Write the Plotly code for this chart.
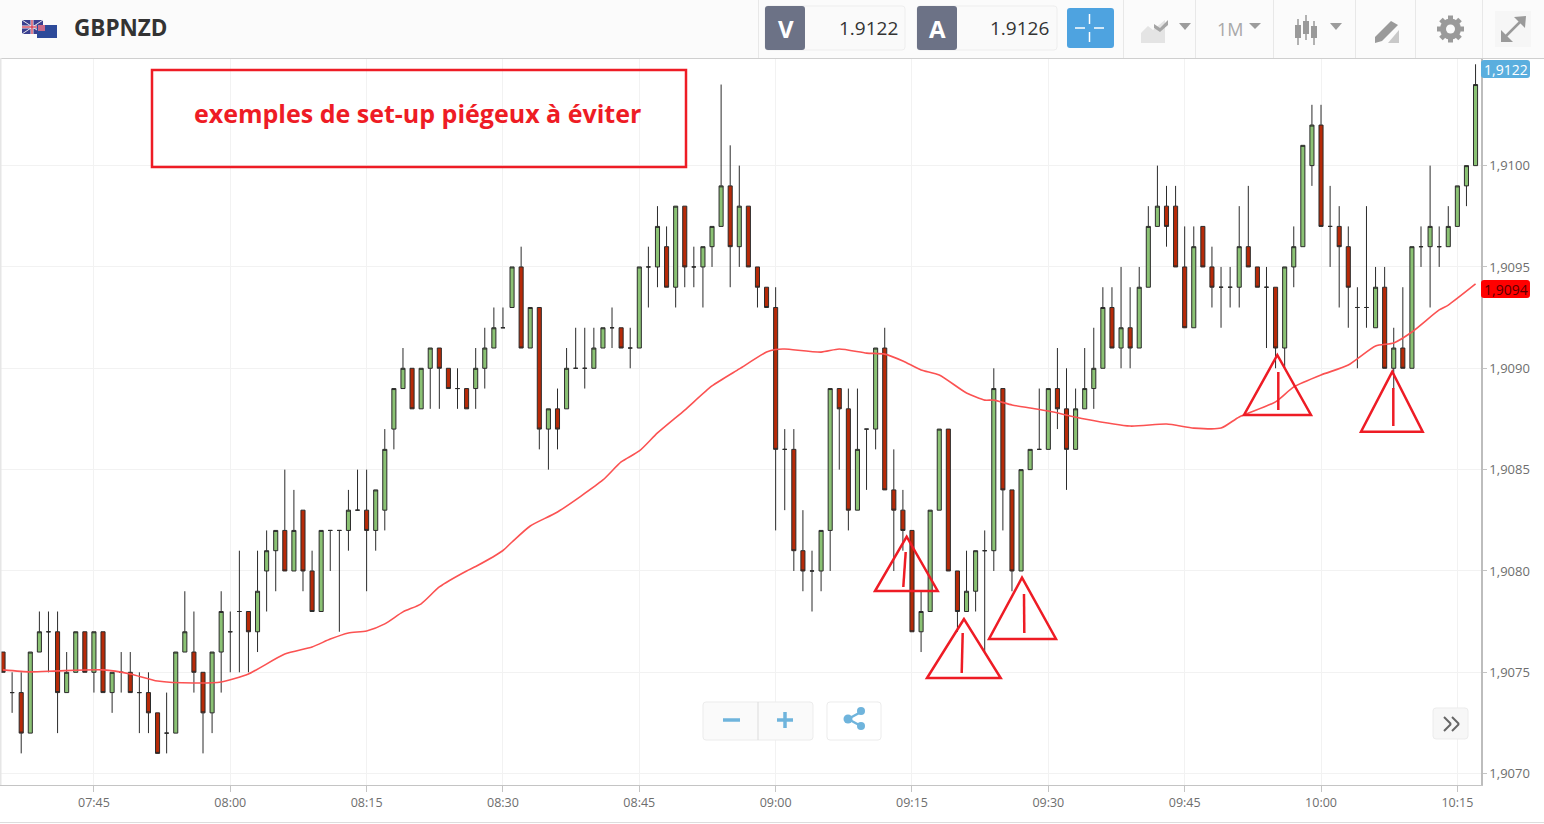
import plotly.graph_objects as go
import pandas as pd
import math

# prices as 1.xxxx ticks (value = 1 + n/10000)
opens = [9076,9074,9074,9072,9076,9077,9077,9074,9075,9077,9075,9077,9074,9075,9075,9074,9074,9073,9072,9072,9076,9076,9075,9073,9076,9077,9078,9078,9077,
 9080,9081,9082,9080,9083,9080,9078,9082,9082,9082,9083,9083,9082,9083,9087,9089,9090,9088,9090,9091,9090,9089,9089,9089,9090,9091,9092,
 9093,9095,9091,9093,9087,9088,9088,9090,9090,9090,9091,9092,9092,9091,9091,9095,9095,9096,9094,9098,9095,9095,9096,9097,9099,9096,9098,9095,9094,
 9093,9086,9086,9081,9080,9080,9082,9089,9088,9083,9087,9087,9091,9084,9083,9082,9077,9078,9083,9087,9080,9078,9079,9081,9081,9089,9084,9080,
 9085,9086,9086,9089,9088,9086,9088,9089,9090,9093,9091,9092,9091,9094,9097,9098,9098,9095,9092,9097,9095,9094,9094,9094,9096,9095,
 9094,9094,9091,9095,9096,9100,9102,9097,9097,9096,9093,9093,9092,9094,9090,9091,9090,9096,9096,9096,9096,9097,9099,9100]
closes = [9075,9074,9072,9076,9077,9077,9074,9075,9077,9075,9077,9074,9075,9075,9074,9074,9073,9071,9072,9076,9077,9075,9073,9076,9078,9077,9078,9077,9079,
 9081,9082,9080,9082,9080,9078,9082,9082,9082,9083,9083,9082,9084,9086,9089,9090,9088,9090,9091,9090,9089,9089,9088,9090,9091,9092,9092,
 9095,9091,9093,9087,9088,9087,9090,9090,9090,9091,9092,9092,9091,9091,9095,9095,9097,9094,9098,9095,9095,9096,9097,9099,9096,9098,9095,9094,9093,
 9086,9086,9081,9080,9080,9082,9089,9088,9083,9086,9087,9091,9084,9083,9082,9077,9078,9083,9087,9080,9078,9079,9081,9081,9089,9084,9080,9085,
 9086,9086,9089,9088,9086,9088,9089,9090,9093,9091,9092,9091,9094,9097,9098,9097,9095,9092,9096,9095,9094,9094,9094,9096,9095,9094,
 9094,9091,9095,9096,9101,9102,9097,9097,9096,9094,9093,9093,9094,9090,9091,9090,9096,9096,9097,9096,9097,9099,9100,9104]
highs = [9076,9075,9075,9076,9078,9078,9078,9076,9077,9077,9077,9077,9075,9076,9076,9075,9075,9073,9074,9076,9079,9078,9075,9076,9079,9078,9081,9078,9081,
 9082,9082,9085,9084,9083,9081,9082,9082,9082,9084,9085,9085,9084,9087,9089,9091,9090,9090,9091,9091,9090,9090,9089,9091,9092,9093,9093,
 9095,9096,9093,9093,9088,9089,9091,9092,9092,9092,9092,9093,9092,9092,9095,9096,9098,9097,9098,9098,9096,9096,9097,9104,9101,9100,9098,9095,9094,
 9094,9087,9087,9083,9081,9082,9089,9089,9089,9089,9087,9091,9092,9086,9084,9082,9079,9083,9087,9087,9080,9081,9081,9082,9090,9089,9084,9085,
 9086,9089,9089,9091,9090,9089,9091,9092,9094,9094,9095,9094,9095,9098,9100,9099,9099,9097,9097,9097,9096,9095,9095,9098,9099,9095,
 9095,9094,9095,9097,9101,9103,9103,9099,9098,9097,9094,9098,9095,9095,9092,9094,9096,9097,9100,9097,9098,9099,9100,9105]
lows = [9075,9073,9071,9072,9076,9075,9072,9074,9075,9075,9074,9074,9073,9074,9074,9072,9072,9071,9071,9072,9076,9074,9071,9072,9074,9075,9075,9075,9076,
 9078,9079,9080,9080,9079,9078,9078,9080,9077,9081,9083,9079,9081,9082,9086,9089,9088,9088,9088,9088,9089,9088,9088,9088,9089,9091,9092,
 9093,9091,9091,9086,9085,9086,9088,9090,9089,9090,9091,9091,9091,9090,9091,9093,9094,9094,9093,9094,9094,9093,9095,9097,9094,9095,9095,9093,9093,
 9082,9083,9080,9079,9078,9079,9080,9085,9082,9083,9084,9086,9084,9080,9081,9077,9076,9078,9083,9080,9077,9078,9078,9076,9080,9082,9079,9080,
 9085,9086,9086,9087,9084,9086,9088,9088,9090,9091,9090,9090,9091,9094,9097,9096,9095,9092,9092,9095,9093,9092,9093,9093,9095,9094,
 9091,9090,9090,9094,9096,9099,9097,9095,9093,9092,9090,9092,9092,9090,9089,9090,9090,9095,9093,9095,9096,9097,9098,9100]

ma_minutes = [0,3,6,11,14,17,21,24,27,31,34,36,38,40,42,44,46,48,51,52,55,56,58,61,66,68,70,72,75,78,81,84,85,86,90,92,95,97,99,101,103,106,108,109,111,113,115,119,124,128,131,134,136,140,142,145,148,151,153,155,158,159,162]
ma_values = [9075.12,9075.02,9075.07,9075.12,9074.92,9074.57,9074.47,9074.52,9074.92,9075.9,9076.25,9076.64,9076.94,9077.04,9077.39,9077.98,9078.38,9079.21,9080.0,9080.22,9081.01,9081.43,9082.22,9082.91,9084.49,9085.38,9085.92,9086.81,9087.94,9089.13,9089.97,9090.80,9090.93,9090.95,9090.8,9090.95,9090.75,9090.7,9090.36,9089.92,9089.67,9088.78,9088.43,9088.43,9088.19,9088.04,9087.89,9087.5,9087.15,9087.25,9087.05,9087.05,9087.6,9088.34,9089.08,9089.67,9090.16,9091.1,9091.25,9091.79,9092.88,9093.12,9094.16]

y_tick_values = [1.9070,1.9075,1.9080,1.9085,1.9090,1.9095,1.9100]
y_tick_labels = ["1,9070","1,9075","1,9080","1,9085","1,9090","1,9095","1,9100"]
x_tick_labels = ["07:45","08:00","08:15","08:30","08:45","09:00","09:15","09:30","09:45","10:00","10:15"]

W, H = 1544, 824
DAY = "2020-01-06 "
start = pd.Timestamp(DAY + "07:35")
times = [start + pd.Timedelta(minutes=i) for i in range(len(opens))]
px = lambda v: 1 + v / 10000
X = lambda x: x / W
Y = lambda y: 1 - y / H

fig = go.Figure()
fig.add_trace(go.Candlestick(
    x=times, open=[px(v) for v in opens], high=[px(v) for v in highs],
    low=[px(v) for v in lows], close=[px(v) for v in closes],
    increasing=dict(fillcolor="#8bc274", line=dict(color="#2b2b2b", width=1)),
    decreasing=dict(fillcolor="#b72a08", line=dict(color="#2b2b2b", width=1)),
    showlegend=False, hoverinfo="skip"))
fig.add_trace(go.Scatter(
    x=[start + pd.Timedelta(minutes=m) for m in ma_minutes], y=[px(v) for v in ma_values],
    mode="lines", line=dict(color="#fb5252", width=1.6, shape="spline", smoothing=0.6),
    showlegend=False, hoverinfo="skip"))

shapes, annos = [], []

def rect(x0, y0, x1, y1, fill="rgba(0,0,0,0)", line=None, lw=1):
    shapes.append(dict(type="rect", xref="paper", yref="paper", x0=X(x0), x1=X(x1), y0=Y(y0), y1=Y(y1),
                       fillcolor=fill, line=dict(color=line or "rgba(0,0,0,0)", width=lw if line else 0)))

def rrect(x0, y0, x1, y1, r=3, fill="rgba(0,0,0,0)", line=None, lw=1):
    d = (f"M {X(x0+r):.5f},{Y(y0):.5f} L {X(x1-r):.5f},{Y(y0):.5f} Q {X(x1):.5f},{Y(y0):.5f} {X(x1):.5f},{Y(y0+r):.5f} "
         f"L {X(x1):.5f},{Y(y1-r):.5f} Q {X(x1):.5f},{Y(y1):.5f} {X(x1-r):.5f},{Y(y1):.5f} "
         f"L {X(x0+r):.5f},{Y(y1):.5f} Q {X(x0):.5f},{Y(y1):.5f} {X(x0):.5f},{Y(y1-r):.5f} "
         f"L {X(x0):.5f},{Y(y0+r):.5f} Q {X(x0):.5f},{Y(y0):.5f} {X(x0+r):.5f},{Y(y0):.5f} Z")
    shapes.append(dict(type="path", xref="paper", yref="paper", path=d, fillcolor=fill,
                       line=dict(color=line or "rgba(0,0,0,0)", width=lw if line else 0)))

def seg(x0, y0, x1, y1, color, lw=1):
    shapes.append(dict(type="line", xref="paper", yref="paper", x0=X(x0), x1=X(x1), y0=Y(y0), y1=Y(y1),
                       line=dict(color=color, width=lw)))

def poly(points, fill="rgba(0,0,0,0)", line=None, lw=1):
    d = "M " + " L ".join(f"{X(a):.5f},{Y(b):.5f}" for a, b in points) + " Z"
    shapes.append(dict(type="path", xref="paper", yref="paper", path=d, fillcolor=fill,
                       line=dict(color=line or "rgba(0,0,0,0)", width=lw if line else 0)))

def circle(cx, cy, r, fill):
    shapes.append(dict(type="circle", xref="paper", yref="paper", x0=X(cx-r), x1=X(cx+r), y0=Y(cy+r), y1=Y(cy-r),
                       fillcolor=fill, line=dict(width=0)))

def text(x, y, s, size, color, anchor="left", family="Open Sans", bold=False):
    annos.append(dict(xref="paper", yref="paper", x=X(x), y=Y(y), text=f"<b>{s}</b>" if bold else s, showarrow=False,
                      xanchor=anchor, yanchor="middle", font=dict(size=size, color=color, family=family),
                      borderpad=0, borderwidth=0))

# top toolbar
rect(0, 0, W, 58, fill="#fbfbfb")
seg(0, 58.5, W, 58.5, "#cfcfcf", 1)
rect(0, 58, 1.5, 785, fill="#e6e6e6")
seg(0, 822.5, W, 822.5, "#dddddd", 1)

# flags
rect(22, 20, 43, 34, fill="#3a3f8f")
seg(22, 27, 43, 27, "#e8e8ee", 3); seg(32, 20, 32, 34, "#e8e8ee", 3)
seg(22, 20, 43, 34, "#e8e8ee", 1); seg(22, 34, 43, 20, "#e8e8ee", 1)
seg(22, 27, 43, 27, "#d8344a", 1.2); seg(32, 20, 32, 34, "#d8344a", 1.2)
rect(37, 25, 57, 38, fill="#2d4a9a")
rect(38, 25, 45, 31, fill="#c86a8a")
text(74, 27.5, "GBPNZD", 22.5, "#333333", family="Open Sans", bold=True)

# bid / ask boxes
rrect(765, 6, 905, 50, fill="#fafafa", line="#eeeeee")
rrect(765, 6, 805, 50, fill="#6c7286")
text(786, 28.5, "V", 24, "#ffffff", "center", bold=True)
text(898, 27.5, "1.9122", 19, "#333333", "right")
rrect(917, 6, 1057, 50, fill="#fafafa", line="#eeeeee")
rrect(917, 6, 957, 50, fill="#6c7286")
text(937, 28.5, "A", 24, "#ffffff", "center", bold=True)
text(1049, 27.5, "1.9126", 19, "#333333", "right")

# crosshair button
rrect(1067, 8, 1114, 48, fill="#4ea3e0")
seg(1089.5, 14, 1089.5, 24, "#ffffff", 1.5); seg(1089.5, 32, 1089.5, 42, "#ffffff", 1.5)
seg(1075, 28, 1085, 28, "#ffffff", 1.5); seg(1094, 28, 1104, 28, "#ffffff", 1.5)

for sx in (758, 1123, 1195, 1273, 1355, 1415, 1482):
    seg(sx + .5, 0, sx + .5, 58, "#e8e8e8", 1)

# chart type icon
poly([(1141, 33), (1148, 26), (1153, 30), (1165, 20), (1165, 43), (1141, 43)], fill="#e4e4e4")
poly([(1154, 24), (1160, 28), (1168, 20), (1168, 25), (1160, 32), (1154, 28)], fill="#a5a5a5")
poly([(1179, 23), (1191, 23), (1185, 30)], fill="#9c9c9c")
text(1217, 29, "1M", 18, "#a8a8a8", bold=False)
poly([(1249, 23), (1261, 23), (1255, 29)], fill="#9c9c9c")

# candle icon
for cx, top, bot, wt, wb in ((1298, 25, 38, 19, 45), (1306, 21, 34, 15, 40), (1314, 26, 38, 21, 45)):
    seg(cx, wt, cx, wb, "#9a9a9a", 1.5)
    rect(cx - 3, top, cx + 3, bot, fill="#9a9a9a")
poly([(1330, 23), (1342, 23), (1336, 30)], fill="#9c9c9c")

# pencil icon
poly([(1375, 37), (1391, 21), (1398, 25), (1382, 41), (1375, 43)], fill="#9a9a9a")
poly([(1388, 43), (1399, 30), (1399, 43)], fill="#c9c9c9")

# gear icon
GX, GY = 1450.5, 29
for k in range(8):
    a = k * math.pi / 4
    seg(GX, GY, GX + 13.5 * math.cos(a), GY + 13.5 * math.sin(a), "#9a9a9a", 5)
circle(GX, GY, 10.5, "#9a9a9a")
circle(GX, GY, 4.5, "#fbfbfb")

# expand button
rect(1495, 11, 1531, 47, fill="#f6f6f6")
seg(1506, 36, 1520, 22, "#9a9a9a", 2.5)
poly([(1514, 17), (1526, 16), (1525, 28)], fill="#9a9a9a")
poly([(1501, 30), (1501, 42), (1513, 42)], fill="#9a9a9a")

# note box
rect(152, 70, 686, 167, line="#ee1c25", lw=2.5)
text(417, 113, "exemples de set-up piégeux à éviter", 25, "#ee1c25", "center", bold=True)

# warning triangles
TRIS = [((906.7, 536.7), (875, 591), (937.7, 591), (905.7, 552), (903.3, 587)),
        ((964, 619), (927, 678), (1000.7, 678), (962.7, 633), (961.7, 673)),
        ((1022, 577.7), (989, 639), (1056, 639), (1024, 594), (1024.3, 633)),
        ((1277.3, 355), (1244, 415), (1311, 415), (1278.3, 372), (1278.3, 410)),
        ((1392.3, 371.7), (1361, 431.7), (1422.7, 431.7), (1393.3, 388), (1393.3, 426))]
for a, b, c, s0, s1 in TRIS:
    poly([a, b, c], line="#ee1c25", lw=2.5)
    seg(s0[0], s0[1], s1[0], s1[1], "#ee1c25", 2.5)

# price badges
rrect(1481, 60, 1530, 78, fill="#5aaede")
text(1506, 69, "1,9122", 14, "#ffffff", "center")
rrect(1481, 280, 1530, 298, fill="#ff0000")
text(1506, 289, "1,9094", 14, "#5a0000", "center")

# zoom + share buttons
rrect(703, 702, 813, 740, fill="#fafafa", line="#ececec")
seg(758, 702, 758, 740, "#dcdcdc", 1)
seg(723, 720, 740, 720, "#6fb4dc", 3.5)
seg(777, 720, 793, 720, "#6fb4dc", 3.5); seg(785, 712, 785, 728, "#6fb4dc", 3.5)
rrect(827, 702, 881, 740, fill="#ffffff", line="#ececec")
seg(848, 719, 861, 712, "#6fb4dc", 2.5); seg(848, 719, 861, 726, "#6fb4dc", 2.5)
circle(848, 719, 4.5, "#6fb4dc"); circle(861, 711, 4, "#6fb4dc"); circle(861, 726, 4, "#6fb4dc")

# collapse button
rrect(1433, 708, 1468, 739, fill="#f7f7f7", line="#ececec")
for dx in (0, 8):
    seg(1444 + dx, 717, 1451 + dx, 724, "#666666", 2)
    seg(1451 + dx, 724, 1444 + dx, 731, "#666666", 2)

x_ticks = [pd.Timestamp(DAY + t) for t in x_tick_labels]
fig.update_layout(
    width=W, height=H, margin=dict(l=0, r=0, t=0, b=0), autosize=False,
    paper_bgcolor="#ffffff", plot_bgcolor="#ffffff", boxgap=0.36, showlegend=False,
    shapes=shapes, annotations=annos,
    xaxis=dict(domain=[0, 1481 / W], anchor="y", type="date",
               range=[start - pd.Timedelta(seconds=20), start + pd.Timedelta(seconds=9756)],
               rangeslider=dict(visible=False), tickmode="array", tickvals=x_ticks, ticktext=x_tick_labels,
               showgrid=True, gridcolor="#f2f2f2", gridwidth=1, showline=True, linecolor="#c4c4c4", linewidth=1,
               ticks="outside", ticklen=6, tickcolor="#c4c4c4", zeroline=False,
               tickfont=dict(family="Open Sans", size=12.5, color="#6e6e6e")),
    yaxis=dict(domain=[1 - 785 / H, 1 - 59 / H], anchor="x", side="right",
               range=[1 + 9069.44 / 10000, 1 + 9105.26 / 10000],
               tickmode="array", tickvals=y_tick_values, ticktext=y_tick_labels,
               showgrid=True, gridcolor="#f2f2f2", gridwidth=1, showline=True, linecolor="#bdbdbd", linewidth=1.5,
               ticks="outside", ticklen=4, tickcolor="#c4c4c4", zeroline=False,
               tickfont=dict(family="Open Sans", size=13, color="#6e6e6e")),
)
fig.write_html("out.html", config={"displayModeBar": False},
               post_script="document.body.style.margin='0';document.body.style.overflow='hidden';")
